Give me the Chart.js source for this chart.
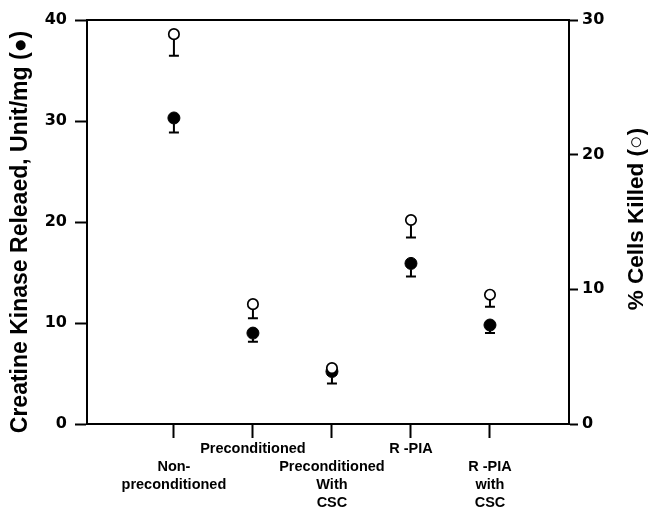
<!DOCTYPE html>
<html>
<head>
<meta charset="utf-8">
<script src="https://cdn.jsdelivr.net/npm/chart.js@4.4.0/dist/chart.umd.min.js"></script>
<style>
  html, body { margin: 0; padding: 0; background: #fff; }
  canvas { display: block; }
</style>
</head>
<body>
<canvas id="chart" width="648" height="510"></canvas>
<script>
// categories (multi-line, the blank first line staggers every other label)
const categories = [
  ['', 'Non-', 'preconditioned'],
  ['Preconditioned'],
  ['', 'Preconditioned', 'With', 'CSC'],
  ['R -PIA'],
  ['', 'R -PIA', 'with', 'CSC'],
];
const xPositions = [1, 2, 3, 4, 5];

// creatine kinase released, unit/mg (filled circles, left axis)
const ckReleased = [30.3, 9.0, 5.2, 15.9, 9.8];
const ckError = [1.45, 0.85, 1.2, 1.3, 0.8];

// % cells killed (open circles, right axis)
const cellsKilled = [28.95, 8.9, 4.15, 15.15, 9.6];
const cellsError = [1.6, 1.05, 0.5, 1.3, 0.9];

const leftTicks = [0, 10, 20, 30, 40];
const rightTicks = [0, 10, 20, 30];

const leftTitle = 'Creatine Kinase Releaed, Unit/mg (\u25CF)';
const rightTitle = '% Cells Killed (\u25CB)';

const FONT = "'Liberation Sans', Arial, Helvetica, sans-serif";
const DIGIT_FONT = "'DejaVu Sans', 'Liberation Sans', sans-serif";

// one-sided (downward) error bars, drawn right after their own dataset
const errorBars = {
  id: 'errorBars',
  afterDatasetDraw(chart, args) {
    const ds = chart.data.datasets[args.index];
    if (!ds.errors) return;
    const yScale = chart.scales[ds.yAxisID];
    const ctx = chart.ctx;
    ctx.save();
    ctx.strokeStyle = '#000';
    ctx.lineWidth = 2;
    args.meta.data.forEach((pt, i) => {
      const top = pt.y + ds.pointRadius;
      const bottom = yScale.getPixelForValue(ds.data[i].y - ds.errors[i]);
      ctx.beginPath();
      ctx.moveTo(pt.x, top);
      ctx.lineTo(pt.x, bottom);
      ctx.moveTo(pt.x - 5, bottom);
      ctx.lineTo(pt.x + 5, bottom);
      ctx.stroke();
    });
    ctx.restore();
  }
};

// both axis titles read bottom-to-top, so draw them here
const axisTitles = {
  id: 'axisTitles',
  afterDraw(chart) {
    const ctx = chart.ctx;
    const area = chart.chartArea;
    const mid = (area.top + area.bottom) / 2;
    ctx.save();
    ctx.fillStyle = '#000';
    ctx.textAlign = 'center';
    ctx.textBaseline = 'middle';

    ctx.font = `bold 23px ${FONT}`;
    ctx.save();
    ctx.translate(21, mid + 10);
    ctx.rotate(-Math.PI / 2);
    ctx.fillText(leftTitle, 0, 0);
    ctx.restore();

    ctx.font = `bold 22.5px ${FONT}`;
    ctx.translate(637, mid - 3);
    ctx.rotate(-Math.PI / 2);
    ctx.fillText(rightTitle, 0, 0);
    ctx.restore();
  }
};

const toPoints = (vals) => vals.map((v, i) => ({ x: xPositions[i], y: v }));

new Chart(document.getElementById('chart'), {
  type: 'scatter',
  data: {
    datasets: [
      {
        label: 'Creatine Kinase',
        data: toPoints(ckReleased),
        errors: ckError,
        yAxisID: 'yLeft',
        backgroundColor: '#000',
        borderColor: '#000',
        borderWidth: 1,
        pointRadius: 6,
        order: 2,
      },
      {
        label: '% Cells Killed',
        data: toPoints(cellsKilled),
        errors: cellsError,
        yAxisID: 'yRight',
        backgroundColor: '#fff',
        borderColor: '#000',
        borderWidth: 1.7,
        pointRadius: 5.2,
        order: 1,
      },
    ],
  },
  options: {
    responsive: false,
    animation: false,
    devicePixelRatio: 1,
    layout: { padding: 0 },
    plugins: {
      legend: { display: false },
      tooltip: { enabled: false },
    },
    scales: {
      x: {
        type: 'linear',
        position: 'bottom',
        min: -0.1,
        max: 6,
        afterBuildTicks: (scale) => { scale.ticks = xPositions.map((v) => ({ value: v })); },
        afterFit: (scale) => { scale.height = 86; },
        grid: { display: true, drawOnChartArea: false, tickLength: 14, tickColor: '#000', tickWidth: 2 },
        border: { display: true, color: '#000', width: 2 },
        ticks: {
          color: '#000',
          padding: 2,
          maxRotation: 0,
          autoSkip: false,
          font: { family: FONT, size: 14.5, weight: 'bold', lineHeight: 1.24 },
          callback: (value) => categories[xPositions.indexOf(value)],
        },
      },
      xTop: {
        type: 'linear',
        position: 'top',
        min: -0.1,
        max: 6,
        afterFit: (scale) => { scale.height = 20; },
        grid: { display: true, drawOnChartArea: false, drawTicks: false },
        border: { display: true, color: '#000', width: 2 },
        ticks: { display: false },
      },
      yLeft: {
        type: 'linear',
        position: 'left',
        min: 0,
        max: 40,
        afterBuildTicks: (scale) => { scale.ticks = leftTicks.map((v) => ({ value: v })); },
        afterFit: (scale) => { scale.width = 87; },
        grid: { display: true, drawOnChartArea: false, tickLength: 12, tickColor: '#000', tickWidth: 2 },
        border: { display: true, color: '#000', width: 2 },
        ticks: {
          color: '#000',
          padding: 8,
          font: { family: DIGIT_FONT, size: 16, weight: 'bold' },
        },
      },
      yRight: {
        type: 'linear',
        position: 'right',
        min: 0,
        max: 30,
        afterBuildTicks: (scale) => { scale.ticks = rightTicks.map((v) => ({ value: v })); },
        afterFit: (scale) => { scale.width = 79; },
        grid: { display: true, drawOnChartArea: false, tickLength: 9, tickColor: '#000', tickWidth: 2 },
        border: { display: true, color: '#000', width: 2 },
        ticks: {
          color: '#000',
          padding: 4,
          font: { family: DIGIT_FONT, size: 16, weight: 'bold' },
        },
      },
    },
  },
  plugins: [errorBars, axisTitles],
});
</script>
</body>
</html>
